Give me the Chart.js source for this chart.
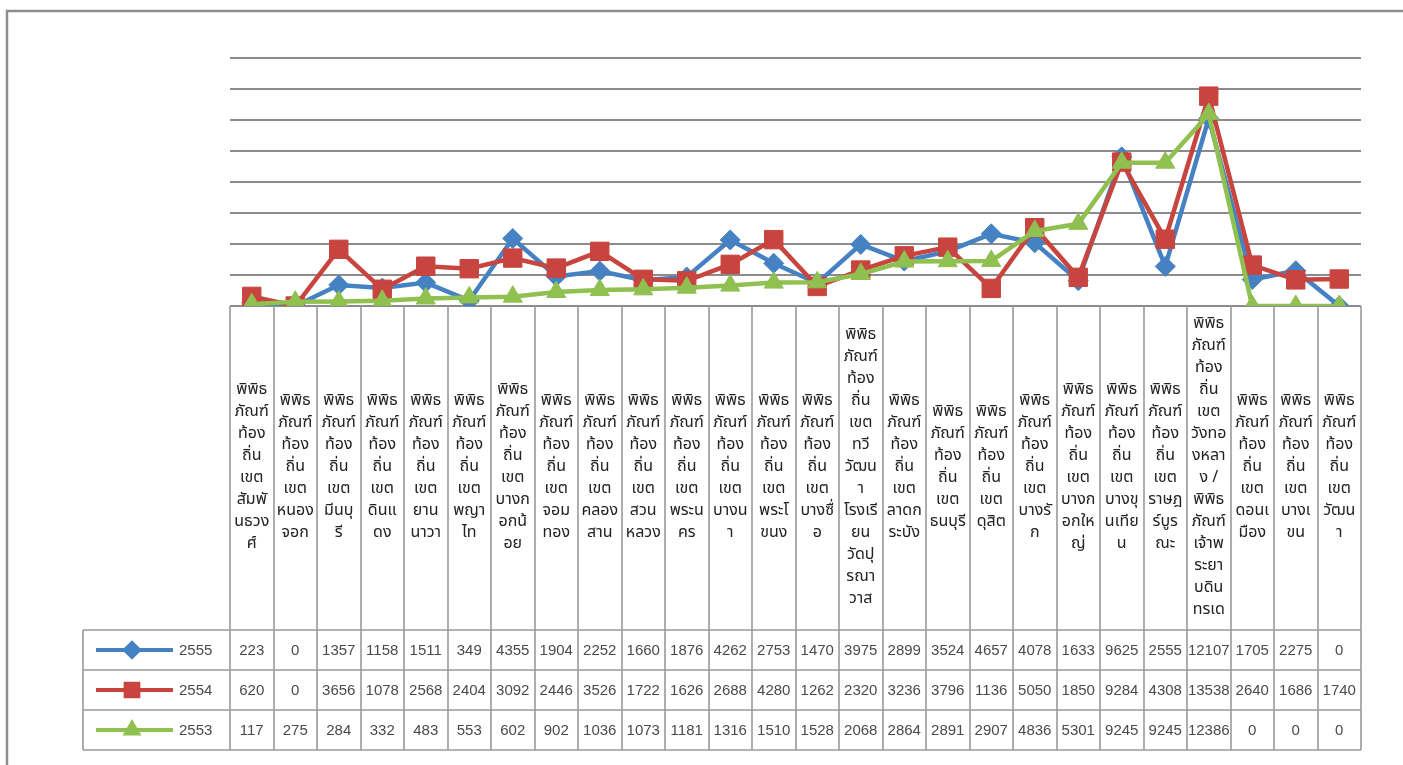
<!DOCTYPE html>
<html lang="th">
<head>
<meta charset="utf-8">
<title>ผู้เข้าชมพิพิธภัณฑ์ท้องถิ่น</title>
<script src="https://cdn.jsdelivr.net/npm/chart.js@4/dist/chart.umd.min.js"></script>
<style>
  html, body { margin: 0; padding: 0; background: #ffffff; }
  #wrap { position: relative; width: 1403px; height: 765px; }
</style>
</head>
<body>
<div id="wrap"><canvas id="visitorsChart" width="1403" height="765"></canvas></div>
<script>
// museum names, wrapped the way they sit in the table header
const museumLabels = [
  ["พิพิธ", "ภัณฑ์", "ท้อง", "ถิ่น", "เขต", "สัมพั", "นธวง", "ศ์"],
  ["พิพิธ", "ภัณฑ์", "ท้อง", "ถิ่น", "เขต", "หนอง", "จอก"],
  ["พิพิธ", "ภัณฑ์", "ท้อง", "ถิ่น", "เขต", "มีนบุ", "รี"],
  ["พิพิธ", "ภัณฑ์", "ท้อง", "ถิ่น", "เขต", "ดินแ", "ดง"],
  ["พิพิธ", "ภัณฑ์", "ท้อง", "ถิ่น", "เขต", "ยาน", "นาวา"],
  ["พิพิธ", "ภัณฑ์", "ท้อง", "ถิ่น", "เขต", "พญา", "ไท"],
  ["พิพิธ", "ภัณฑ์", "ท้อง", "ถิ่น", "เขต", "บางก", "อกน้", "อย"],
  ["พิพิธ", "ภัณฑ์", "ท้อง", "ถิ่น", "เขต", "จอม", "ทอง"],
  ["พิพิธ", "ภัณฑ์", "ท้อง", "ถิ่น", "เขต", "คลอง", "สาน"],
  ["พิพิธ", "ภัณฑ์", "ท้อง", "ถิ่น", "เขต", "สวน", "หลวง"],
  ["พิพิธ", "ภัณฑ์", "ท้อง", "ถิ่น", "เขต", "พระน", "คร"],
  ["พิพิธ", "ภัณฑ์", "ท้อง", "ถิ่น", "เขต", "บางน", "า"],
  ["พิพิธ", "ภัณฑ์", "ท้อง", "ถิ่น", "เขต", "พระโ", "ขนง"],
  ["พิพิธ", "ภัณฑ์", "ท้อง", "ถิ่น", "เขต", "บางซื่", "อ"],
  ["พิพิธ", "ภัณฑ์", "ท้อง", "ถิ่น", "เขต", "ทวี", "วัฒน", "า", "โรงเรี", "ยน", "วัดปุ", "รณา", "วาส"],
  ["พิพิธ", "ภัณฑ์", "ท้อง", "ถิ่น", "เขต", "ลาดก", "ระบัง"],
  ["พิพิธ", "ภัณฑ์", "ท้อง", "ถิ่น", "เขต", "ธนบุรี"],
  ["พิพิธ", "ภัณฑ์", "ท้อง", "ถิ่น", "เขต", "ดุสิต"],
  ["พิพิธ", "ภัณฑ์", "ท้อง", "ถิ่น", "เขต", "บางรั", "ก"],
  ["พิพิธ", "ภัณฑ์", "ท้อง", "ถิ่น", "เขต", "บางก", "อกให", "ญ่"],
  ["พิพิธ", "ภัณฑ์", "ท้อง", "ถิ่น", "เขต", "บางขุ", "นเทีย", "น"],
  ["พิพิธ", "ภัณฑ์", "ท้อง", "ถิ่น", "เขต", "ราษฎ", "ร์บูร", "ณะ"],
  ["พิพิธ", "ภัณฑ์", "ท้อง", "ถิ่น", "เขต", "วังทอ", "งหลา", "ง /", "พิพิธ", "ภัณฑ์", "เจ้าพ", "ระยา", "บดิน", "ทรเด"],
  ["พิพิธ", "ภัณฑ์", "ท้อง", "ถิ่น", "เขต", "ดอนเ", "มือง"],
  ["พิพิธ", "ภัณฑ์", "ท้อง", "ถิ่น", "เขต", "บางเ", "ขน"],
  ["พิพิธ", "ภัณฑ์", "ท้อง", "ถิ่น", "เขต", "วัฒน", "า"],
];

const years = ["2555", "2554", "2553"];

const visitors2555 = [223, 0, 1357, 1158, 1511, 349, 4355, 1904, 2252, 1660, 1876, 4262, 2753,
  1470, 3975, 2899, 3524, 4657, 4078, 1633, 9625, 2555, 12107, 1705, 2275, 0];
const visitors2554 = [620, 0, 3656, 1078, 2568, 2404, 3092, 2446, 3526, 1722, 1626, 2688, 4280,
  1262, 2320, 3236, 3796, 1136, 5050, 1850, 9284, 4308, 13538, 2640, 1686, 1740];
const visitors2553 = [117, 275, 284, 332, 483, 553, 602, 902, 1036, 1073, 1181, 1316, 1510,
  1528, 2068, 2864, 2891, 2907, 4836, 5301, 9245, 9245, 12386, 0, 0, 0];

const yMax = 16000;
const yStep = 2000;

const thaiFont = '"Noto Sans Thai", "Noto Sans", "DejaVu Sans", sans-serif';
const numFont = '"Liberation Sans", Arial, sans-serif';
const lineGray = "#9a9a9a";

// frame + data table under the plot, columns follow the x scale
const dataTable = {
  id: "dataTable",
  beforeDraw(chart) {
    const ctx = chart.ctx;
    ctx.save();
    ctx.fillStyle = "#ffffff";
    ctx.fillRect(0, 0, chart.width, chart.height);
    ctx.strokeStyle = "#8e8e8e";
    ctx.lineWidth = 2.5;
    ctx.beginPath();
    ctx.moveTo(7, chart.height + 5);
    ctx.lineTo(7, 11);
    ctx.lineTo(chart.width + 5, 11);
    ctx.stroke();
    ctx.restore();
  },
  afterDraw(chart) {
    const ctx = chart.ctx;
    const x = chart.scales.x;
    const area = chart.chartArea;
    const half = (x.getPixelForValue(1) - x.getPixelForValue(0)) / 2;
    const left = x.getPixelForValue(0) - half;
    const right = x.getPixelForValue(museumLabels.length - 1) + half;
    const headTop = area.bottom;
    const rowTop = 630;
    const rowH = 40;
    const tableBottom = rowTop + rowH * years.length;
    const keyLeft = 83;

    ctx.save();
    ctx.strokeStyle = lineGray;
    ctx.lineWidth = 1.6;
    ctx.beginPath();
    for (let i = 0; i <= museumLabels.length; i++) {
      const px = Math.round(left + i * half * 2);
      ctx.moveTo(px, headTop);
      ctx.lineTo(px, tableBottom);
    }
    ctx.moveTo(keyLeft, rowTop);
    ctx.lineTo(keyLeft, tableBottom);
    for (let r = 0; r <= years.length; r++) {
      ctx.moveTo(keyLeft, rowTop + r * rowH);
      ctx.lineTo(right, rowTop + r * rowH);
    }
    ctx.stroke();

    // header labels, centred in the header band
    ctx.fillStyle = "#222222";
    ctx.font = "16px " + thaiFont;
    ctx.textAlign = "center";
    ctx.textBaseline = "middle";
    const lineH = 22;
    const midY = (headTop + rowTop) / 2;
    museumLabels.forEach((lines, i) => {
      const cx = x.getPixelForValue(i);
      const y0 = midY - ((lines.length - 1) * lineH) / 2;
      lines.forEach((t, k) => ctx.fillText(t, cx, y0 + k * lineH));
    });

    // value rows with legend keys
    ctx.font = "15px " + numFont;
    chart.data.datasets.forEach((ds, r) => {
      const cy = rowTop + r * rowH + rowH / 2;
      ctx.strokeStyle = ds.borderColor;
      ctx.lineWidth = 4;
      ctx.beginPath();
      ctx.moveTo(96, cy);
      ctx.lineTo(173, cy);
      ctx.stroke();
      ctx.fillStyle = ds.backgroundColor;
      Chart.helpers.drawPoint(ctx, { pointStyle: ds.pointStyle, radius: ds.keyRadius, rotation: 0, borderWidth: 1 }, 132, cy);
      ctx.fill();
      ctx.fillStyle = "#4a4a4a";
      ctx.textAlign = "left";
      ctx.fillText(ds.label, 179, cy + 1);
      ctx.textAlign = "center";
      ds.data.forEach((v, i) => {
        ctx.fillText(String(v), x.getPixelForValue(i), cy + 1);
      });
    });
    ctx.restore();
  },
};

document.addEventListener("DOMContentLoaded", function () {
  new Chart(document.getElementById("visitorsChart"), {
    type: "line",
    data: {
      labels: museumLabels.map((l) => l.join("")),
      datasets: [
        {
          label: years[0],
          data: visitors2555,
          borderColor: "#4682c3",
          backgroundColor: "#4682c3",
          pointStyle: "rectRot",
          pointRadius: 10,
          keyRadius: 7,
          order: 3,
        },
        {
          label: years[1],
          data: visitors2554,
          borderColor: "#c8443f",
          backgroundColor: "#c8443f",
          pointStyle: "rect",
          pointRadius: 13,
          keyRadius: 9,
          order: 2,
        },
        {
          label: years[2],
          data: visitors2553,
          borderColor: "#8fc050",
          backgroundColor: "#8fc050",
          pointStyle: "triangle",
          pointRadius: 11,
          keyRadius: 7,
          order: 1,
        },
      ],
    },
    options: {
      responsive: false,
      animation: false,
      layout: { padding: { left: 230, right: 42, top: 58, bottom: 459 } },
      elements: {
        line: { borderWidth: 4.5, tension: 0 },
        point: { borderWidth: 1, hoverRadius: 10 },
      },
      plugins: {
        legend: { display: false },
        tooltip: { enabled: false },
      },
      scales: {
        x: { display: false, offset: true },
        y: {
          min: 0,
          max: yMax,
          ticks: { display: false, stepSize: yStep },
          border: { display: false },
          grid: { color: "#8c8c8c", lineWidth: 2, drawTicks: false },
        },
      },
    },
    plugins: [dataTable],
  });
});
</script>
</body>
</html>
